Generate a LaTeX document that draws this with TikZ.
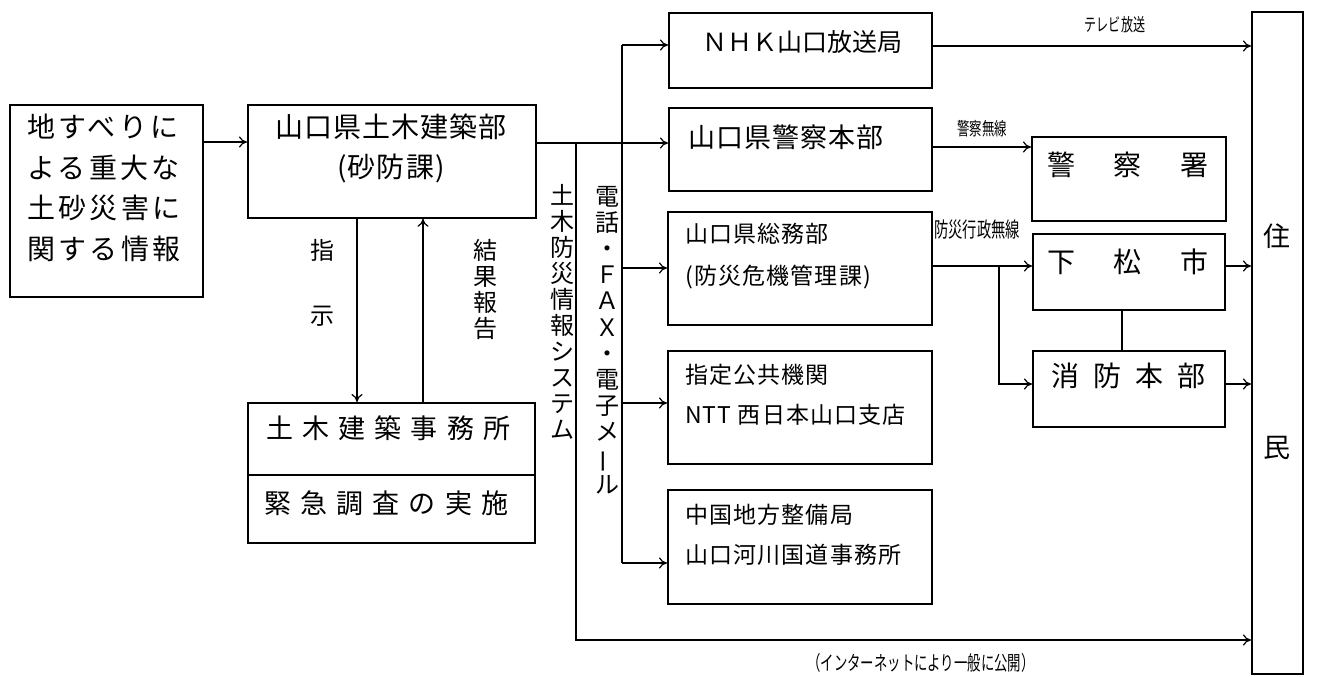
\documentclass[tikz,border=0pt]{standalone}
\usepackage{fontspec}
\usepackage{graphicx}
\setmainfont{Noto Sans CJK JP}
\usetikzlibrary{arrows.meta}
\newcommand\fsz[2]{\fontsize{#1}{#2}\selectfont}
\newcommand\lsp[1]{\addfontfeature{LetterSpace=#1}}
\newcommand\cond[2]{\scalebox{#1}[1]{#2}}
\begin{document}
\begin{tikzpicture}[x=1pt,y=-1pt,
  box/.style={draw,line width=1.8pt,anchor=north west,inner sep=0pt},
  conn/.style={line width=2.5pt},
  arr/.style={conn,-{To[length=8pt,width=11pt,line width=1.2pt]}},
  txt/.style={inner sep=0pt},
  thinln/.style={line width=1.5pt}]
\useasboundingbox[fill=white] (0,0) rectangle (1325,677);

% boxes
\node[box,minimum width=193pt,minimum height=192pt] (src) at (9,104) {};
\node[box,minimum width=288pt,minimum height=113pt] (main) at (247,104) {};
\node[box,minimum width=287pt,minimum height=140pt] (office) at (247,402) {};
\node[box,minimum width=263pt,minimum height=75pt] (nhk) at (668,12) {};
\node[box,minimum width=263pt,minimum height=83pt] (pol) at (668,107) {};
\node[box,minimum width=194pt,minimum height=84pt] (sho) at (1031,136) {};
\node[box,minimum width=264pt,minimum height=113pt] (som) at (667,211) {};
\node[box,minimum width=192pt,minimum height=76pt] (kud) at (1032,233) {};
\node[box,minimum width=192pt,minimum height=76pt] (fire) at (1032,350) {};
\node[box,minimum width=264pt,minimum height=113pt] (sit) at (667,350) {};
\node[box,minimum width=264pt,minimum height=114pt] (chu) at (667,489) {};
\node[box,minimum width=51pt,minimum height=662pt] (jum) at (1251,11) {};
\draw[line width=1.8pt] (office.west|-0,475) -- (office.east|-0,475);

% texts in boxes
\node[txt,anchor=west,align=left,font=\fsz{28}{40.5}\lsp{12}] (srct) at (27,188) {地すべりに\\よる重大な\\土砂災害に\\関する情報};
\node[txt,align=center,font=\fsz{28}{40}\lsp{4}] (maint) at (391,148) {山口県土木建築部\\(砂防課)};
\node[txt,anchor=west,font=\fsz{27}{30}\lsp{34}] (offt1) at (266,428) {土木建築事務所};
\node[txt,anchor=west,font=\fsz{27}{30}\lsp{34}] (offt2) at (264,503) {緊急調査の実施};
\node[txt,anchor=west,font=\fsz{25}{30}] (nhkt) at (702,42) {ＮＨＫ山口放送局};
\node[txt,anchor=west,font=\fsz{27}{30}\lsp{4}] (polt) at (688,137) {山口県警察本部};
\node[txt,font=\fsz{28}{30}] (shot) at (1128,165) {警\hspace{39pt}察\hspace{39pt}署};
\node[txt,anchor=west,align=left,font=\fsz{23}{42}\lsp{5}] (somt) at (685,256) {山口県総務部\\(防災危機管理課)};
\node[txt,font=\fsz{28}{30}] (kudt) at (1128,262) {下\hspace{39pt}松\hspace{39pt}市};
\node[txt,font=\fsz{28}{30}] (firet) at (1128,376) {消\hspace{14pt}防\hspace{14pt}本\hspace{14pt}部};
\node[txt,anchor=west,align=left,font=\fsz{23}{40}\lsp{5}] (sitt) at (685,395) {指定公共機関\\NTT 西日本山口支店};
\node[txt,anchor=west,align=left,font=\fsz{23}{40}\lsp{5}] (chut) at (685,535) {中国地方整備局\\山口河川国道事務所};
\node[txt,align=center,font=\fsz{27}{211}] (jumt) at (1277,342) {住\\民};

% vertical labels
\node[txt,align=center,font=\fsz{24}{26}] (sysl) at (562,312) {土\\木\\防\\災\\情\\報\\シ\\ス\\テ\\ム};
\node[txt,align=center,font=\fsz{24}{26.2}] (tell) at (607,340) {電\\話\\・\\Ｆ\\Ａ\\Ｘ\\・\\電\\子\\メ\\\rotatebox[origin=c]{90}{ー}\\ル};
\node[txt,align=center,font=\fsz{24}{65}] (shij) at (322,283) {指\\示};
\node[txt,align=center,font=\fsz{24}{26}] (kekka) at (485,289) {結\\果\\報\\告};

% small condensed labels
\node[txt,font=\fsz{18}{20}] (tvl) at (1115,25) {\cond{0.67}{テレビ放送}};
\node[txt,font=\fsz{18}{20}] (poll) at (982,129) {\cond{0.69}{警察無線}};
\node[txt,font=\fsz{21}{24}] (bosl) at (977,230) {\cond{0.68}{防災行政無線}};
\node[txt,font=\fsz{20}{24}] (netl) at (921,663) {\cond{0.67}{（インターネットにより一般に公開）}};

% junction coordinates
\coordinate (v1t) at (576,143);
\coordinate (v1b) at (576,640);
\coordinate (v2t) at (622,45);
\coordinate (v2b) at (622,563);
\coordinate (bj) at (999,266);

% connectors
\draw[arr] (src.east|-0,142) -- (main.west|-0,142);
\draw[arr] (main.east|-0,143) -- (pol.west|-0,143);
\draw[arr] (main.south-|357,0) -- (office.north-|357,0);
\draw[arr] (office.north-|423,0) -- (main.south-|423,0);
\draw[conn] (v2t) -- (v2b);
\draw[arr] (v2t) -- (nhk.west|-v2t);
\draw[arr] (v2t|-0,268) -- (som.west|-0,268);
\draw[arr] (v2t|-0,403) -- (sit.west|-0,403);
\draw[arr] (v2b) -- (chu.west|-v2b);
\draw[arr] (v1t) -- (v1b) -- (jum.west|-v1b);
\draw[arr] (nhk.east|-0,46) -- (jum.west|-0,46);
\draw[arr] (pol.east|-0,147) -- (sho.west|-0,147);
\draw[arr] (som.east|-bj) -- (kud.west|-bj);
\draw[arr] (bj) -- (bj|-0,384) -- (fire.west|-0,384);
\draw[arr] (kud.east|-0,266) -- (jum.west|-0,266);
\draw[arr] (fire.east|-0,384) -- (jum.west|-0,384);
\draw[thinln] (kud.south-|1122,0) -- (fire.north-|1122,0);
\end{tikzpicture}
\end{document}
